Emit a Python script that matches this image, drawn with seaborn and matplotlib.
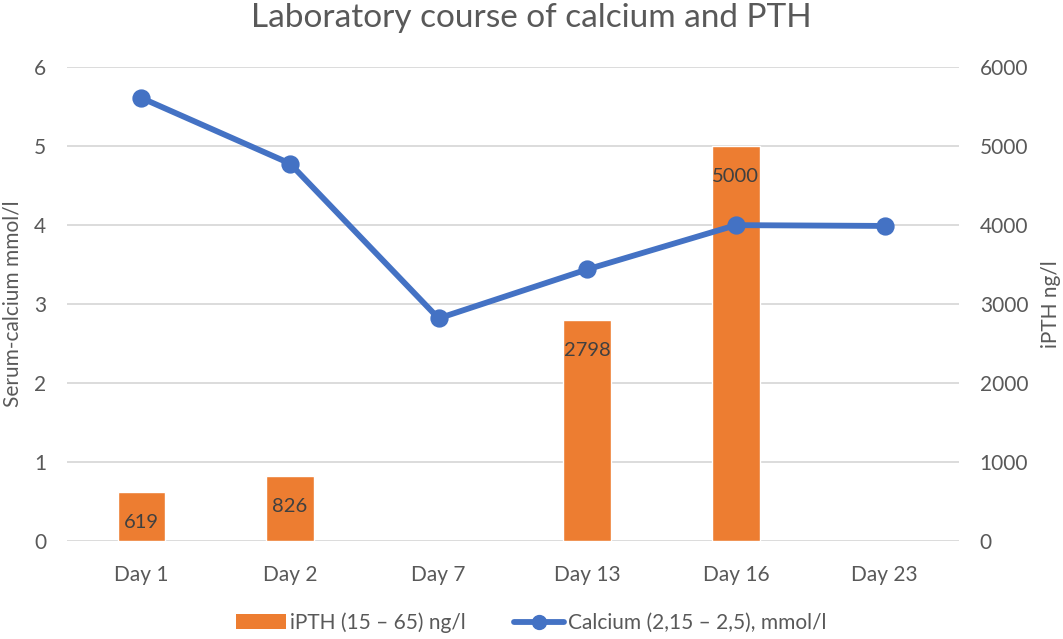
import matplotlib
matplotlib.use("Agg")
import matplotlib.pyplot as plt
import seaborn as sns
import pandas as pd
from matplotlib.lines import Line2D
from matplotlib.patches import Patch

days = ["Day 1", "Day 2", "Day 7", "Day 13", "Day 16", "Day 23"]
pth_days = ["Day 1", "Day 2", "Day 13", "Day 16"]
pth_values = [619, 826, 2798, 5000]
calcium_values = [5.61, 4.78, 2.82, 3.44, 4.00, 3.99]

sns.set_theme(style="white")
plt.rcParams["font.family"] = ["Lato", "DejaVu Sans"]

BAR = "#ED7D31"
LINE = "#4472C4"
TXT = "#595959"

fig = plt.figure(figsize=(10.63, 6.39), dpi=100)
ax = fig.add_axes([0.063, 0.153, 0.839, 0.742])

pth_df = pd.DataFrame({"day": pth_days, "pth": pth_values})
sns.barplot(data=pth_df, x="day", y="pth", order=days, color=BAR,
            saturation=1, width=0.32, ax=ax, zorder=2)
ax.set_ylim(0, 6000)
ax.set_yticks(range(0, 6001, 1000))
ax.set_xlabel("")
ax.grid(axis="y", color="#D9D9D9", linewidth=1.3, zorder=0)
ax.set_axisbelow(True)
for c in ax.containers:
    ax.bar_label(c, padding=-28, fontsize=14.5, color="#404040")

ax2 = ax.twinx()
ca_df = pd.DataFrame({"day": days, "ca": calcium_values})
sns.pointplot(data=ca_df, x="day", y="ca", order=days, color=LINE,
              markers="o", markersize=10, linewidth=4.2, ax=ax2)
ax2.set_ylim(0, 6)
ax2.set_yticks(range(0, 7))
ax2.set_xlabel("")

# swap sides: bars' axis (iPTH) on the right, calcium axis on the left
ax.yaxis.tick_right()
ax.yaxis.set_label_position("right")
ax2.yaxis.tick_left()
ax2.yaxis.set_label_position("left")

for a in (ax, ax2):
    for s in a.spines.values():
        s.set_visible(False)
    a.tick_params(axis="both", length=0, labelsize=15, colors=TXT, pad=15)
ax.tick_params(axis="x", pad=17)

ax.set_ylabel("iPTH ng/l", fontsize=15, color=TXT, rotation=90, labelpad=9)
ax2.set_ylabel("Serum-calcium mmol/l", fontsize=15, color=TXT, labelpad=8)

fig.suptitle("Laboratory course of calcium and PTH", fontsize=24, color=TXT, y=0.995)

handles = [Patch(facecolor=BAR, edgecolor="none"),
           Line2D([], [], color=LINE, marker="o", markersize=10, linewidth=4.2)]
fig.legend(handles, ["iPTH (15 – 65) ng/l", "Calcium (2,15 – 2,5), mmol/l"],
           loc="lower center", ncol=2, frameon=False, fontsize=15,
           bbox_to_anchor=(0.5, -0.02), handlelength=2.4, columnspacing=2.3,
           labelcolor=TXT, handletextpad=0.2)

fig.savefig("out.png", dpi=100)
